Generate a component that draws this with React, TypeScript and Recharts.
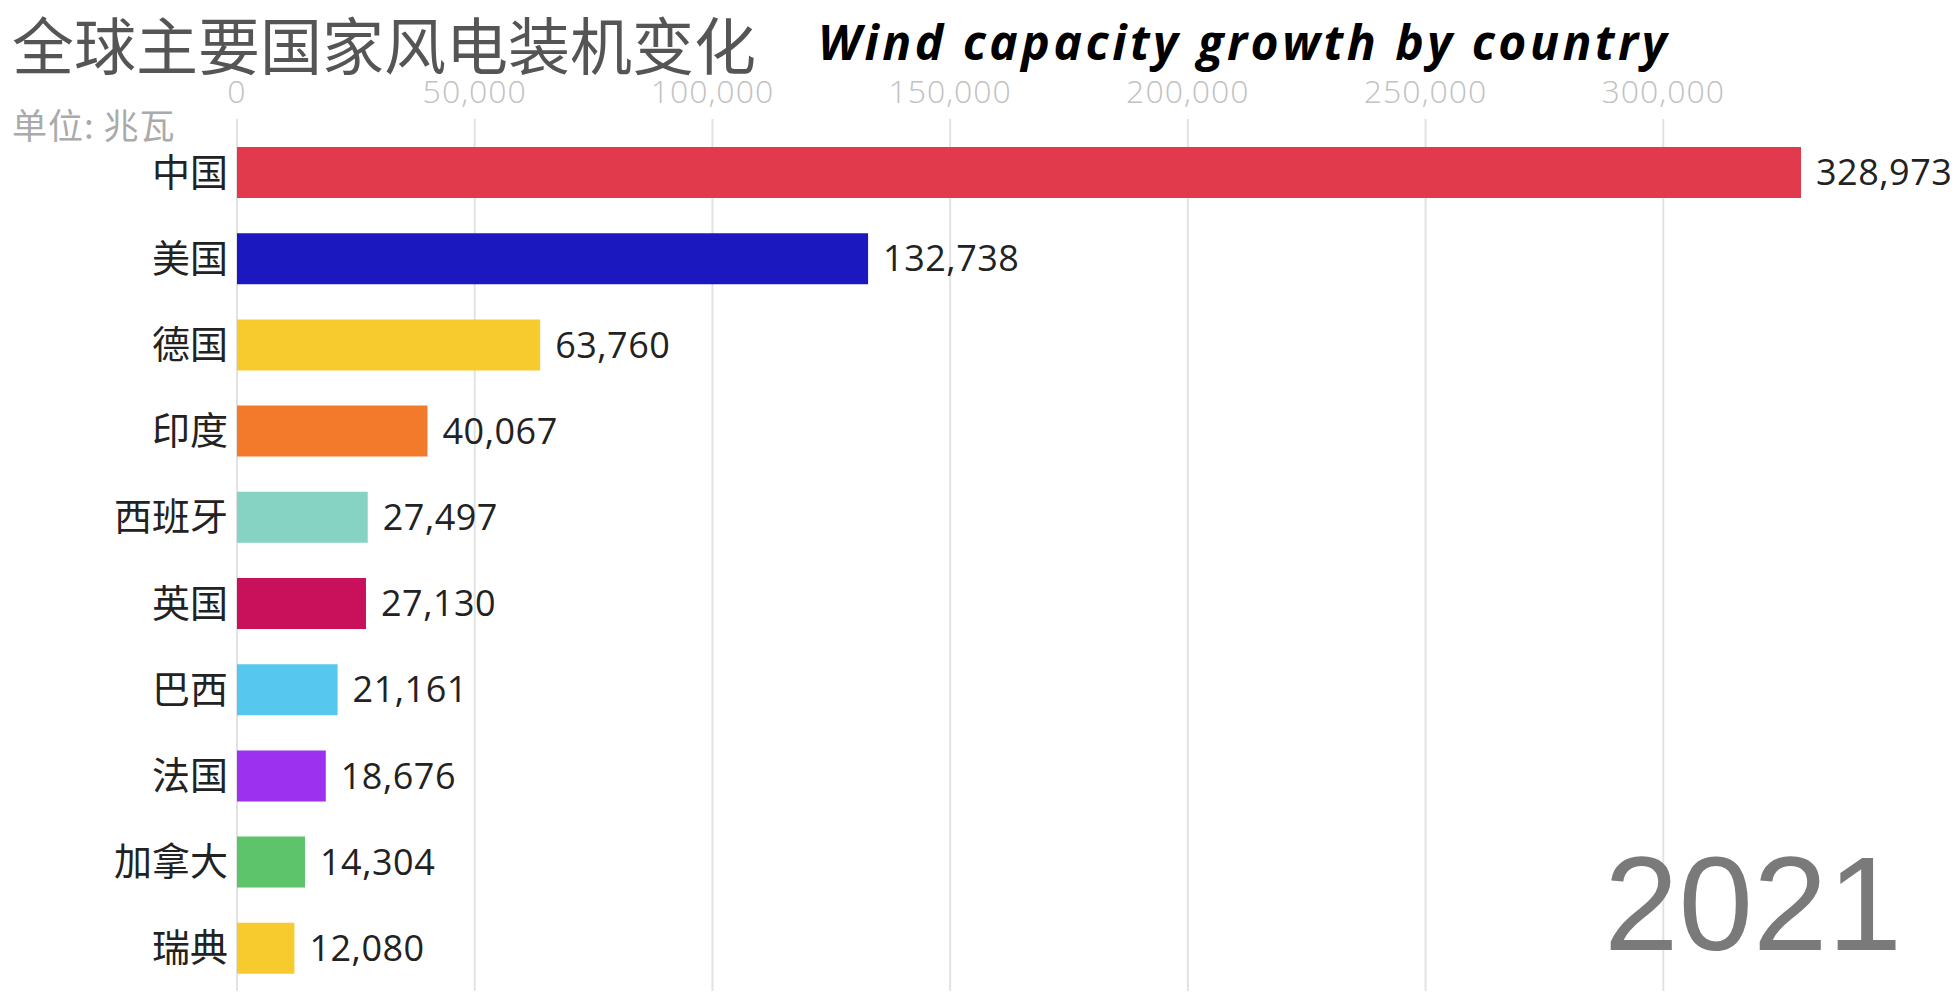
import React from 'react';
import { BarChart, Bar, XAxis, YAxis, CartesianGrid, LabelList, Cell } from 'recharts';

const countries = ['中国', '美国', '德国', '印度', '西班牙', '英国', '巴西', '法国', '加拿大', '瑞典'];
const capacity = [328973, 132738, 63760, 40067, 27497, 27130, 21161, 18676, 14304, 12080];
const barColors = ['#e03a4c', '#1c18bf', '#f7cb2e', '#f37a2b', '#86d3c3', '#c8105b', '#56c8ef', '#9c31f0', '#5dc46b', '#f7cb2e'];
const xTicks = [0, 50000, 100000, 150000, 200000, 250000, 300000];
const xMax = 350000;

const data = countries.map((name, i) => ({ name, value: capacity[i] }));

const W = 1957;
const H = 996;

const fmt = (v: number) => v.toLocaleString('en-US');

// grid lines only at the tick values, not at the plot's right edge
const gridX = ({ xAxis, offset }: any) => {
  if (xAxis && typeof xAxis.scale === 'function') return xTicks.map((t) => xAxis.scale(t));
  return xTicks.map((t) => offset.left + (t / xMax) * offset.width);
};

export default function App() {
  return (
    <div style={{ position: 'absolute', left: 0, top: 0, width: W, height: H, background: '#fff' }}>
      <BarChart
        width={W}
        height={H}
        data={data}
        layout="vertical"
        margin={{ top: 79, right: 56, bottom: 5, left: 0 }}
        barSize={51}
      >
        <CartesianGrid horizontal={false} stroke="#e2e2e2" strokeWidth={2} verticalCoordinatesGenerator={gridX} />
        <XAxis
          type="number"
          orientation="top"
          domain={[0, xMax]}
          ticks={xTicks}
          tickFormatter={fmt}
          height={50}
          axisLine={false}
          tickSize={10}
          tickMargin={16}
          tickLine={{ stroke: '#e2e2e2', strokeWidth: 2 }}
          tick={{ fill: '#c2c2c2', fontSize: 32, fontFamily: 'Open Sans', fontWeight: 300, letterSpacing: 1 }}
        />
        <YAxis
          type="category"
          dataKey="name"
          width={237}
          axisLine={false}
          tickLine={false}
          tickSize={0}
          tickMargin={9}
          tick={{ fill: '#222', fontSize: 38, fontFamily: 'Noto Sans CJK SC' }}
        />
        <Bar dataKey="value" isAnimationActive={false}>
          {data.map((d, i) => (
            <Cell key={d.name} fill={barColors[i]} />
          ))}
          <LabelList
            dataKey="value"
            position="right"
            offset={15}
            formatter={(v: any) => fmt(Number(v))}
            style={{ fill: '#222', fontSize: 36, fontFamily: 'Open Sans', letterSpacing: 0.5 }}
          />
        </Bar>
      </BarChart>
      <svg width={W} height={H} style={{ position: 'absolute', left: 0, top: 0, pointerEvents: 'none' }}>
        <text x={12} y={70} fontSize={62} fill="#555" fontFamily="Noto Sans CJK SC">
          全球主要国家风电装机变化
        </text>
        <text x={818} y={60} fontSize={48} fill="#000" fontFamily="Open Sans" fontStyle="italic" fontWeight={700} letterSpacing={3.5}>
          Wind capacity growth by country
        </text>
        <text x={12} y={139} fontSize={35} fill="#aaa" fontFamily="Noto Sans CJK SC" letterSpacing={1}>
          单位: 兆瓦
        </text>
        <text x={1902} y={950} fontSize={134} fill="#7a7a7a" fontFamily="Liberation Sans" textAnchor="end">
          2021
        </text>
      </svg>
    </div>
  );
}
